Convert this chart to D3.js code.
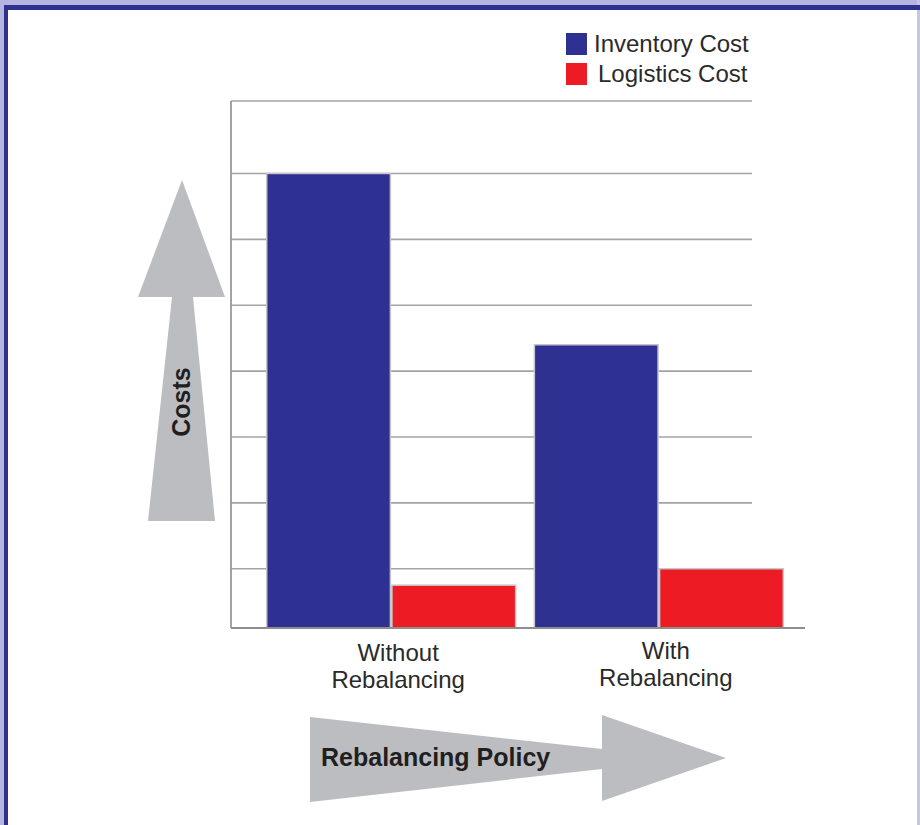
<!DOCTYPE html>
<html><head><meta charset="utf-8">
<script src="https://cdn.jsdelivr.net/npm/d3@7"></script>
<style>html,body{margin:0;padding:0;background:#fff;}svg{display:block;}</style>
</head><body>
<script>
const categories = [["Without", "Rebalancing"], ["With", "Rebalancing"]];
const categoryKeys = ["Without Rebalancing", "With Rebalancing"];
const seriesNames = ["Inventory Cost", "Logistics Cost"];
const inventoryCost = [7.0, 4.4];
const logisticsCost = [0.75, 1.0];
const gridLevels = [1, 2, 3, 4, 5, 6, 7];
const yDomain = [0.1, 8.1];
const colors = ["#2e3192", "#ed1c24"];

const W = 920, H = 825;
const svg = d3.select("body").append("svg").attr("width", W).attr("height", H);
const font = "Liberation Sans, Arial, Helvetica, sans-serif";

// frame
svg.append("rect").attr("width", W).attr("height", H).attr("fill", "#fff");
svg.append("rect").attr("x", 0).attr("y", 0).attr("width", W).attr("height", 5).attr("fill", "#b4b6e0");
svg.append("rect").attr("x", 0).attr("y", 0).attr("width", 4).attr("height", H).attr("fill", "#b4b6e0");
svg.append("rect").attr("x", 917).attr("y", 0).attr("width", 3).attr("height", H).attr("fill", "#c4c6e8");
svg.append("rect").attr("x", 4).attr("y", 5).attr("width", W - 4).attr("height", 5).attr("fill", "#2e3190");
svg.append("rect").attr("x", 4).attr("y", 5).attr("width", 4).attr("height", H).attr("fill", "#2e3190");

const plotLeft = 231, gridRight = 752, baseRight = 805;
const y = d3.scaleLinear().domain(yDomain).range([628, 101]);
const x0 = d3.scaleBand().domain(categoryKeys).range([256, 794]).paddingInner(0.07).paddingOuter(0.04);
const x1 = d3.scaleBand().domain(seriesNames).range([0, x0.bandwidth()]).paddingInner(0.012);

// grid
const grid = svg.append("g");
grid.selectAll("line.g").data(gridLevels.concat([yDomain[1]])).join("line")
  .attr("x1", plotLeft).attr("x2", gridRight)
  .attr("y1", d => y(d)).attr("y2", d => y(d))
  .attr("stroke", "#a3a3a3").attr("stroke-width", 1.6);
// left axis
svg.append("line").attr("x1", plotLeft).attr("x2", plotLeft)
  .attr("y1", y(yDomain[1])).attr("y2", y(yDomain[0]))
  .attr("stroke", "#999").attr("stroke-width", 1.8);

// bars
const data = categoryKeys.map((c, i) => ({cat: c, vals: [inventoryCost[i], logisticsCost[i]]}));
const groups = svg.selectAll("g.grp").data(data).join("g")
  .attr("transform", d => `translate(${x0(d.cat)},0)`);
groups.selectAll("rect").data(d => d.vals.map((v, j) => ({s: seriesNames[j], v, j}))).join("rect")
  .attr("x", d => x1(d.s)).attr("width", x1.bandwidth())
  .attr("y", d => y(d.v)).attr("height", d => y(yDomain[0]) - y(d.v))
  .attr("fill", d => colors[d.j]).attr("stroke", "#c6c6cc").attr("stroke-width", 1.5);

// baseline
svg.append("line").attr("x1", plotLeft).attr("x2", baseRight)
  .attr("y1", y(yDomain[0])).attr("y2", y(yDomain[0]))
  .attr("stroke", "#8e8e8e").attr("stroke-width", 1.8);

// category labels
const labOffsets = [[661, 688], [659, 686]];
categories.forEach((lines, i) => {
  const cx = x0(categoryKeys[i]) + x0.bandwidth() / 2 + 7;
  lines.forEach((t, k) => {
    svg.append("text").attr("x", cx).attr("y", labOffsets[i][k])
      .attr("text-anchor", "middle").attr("font-family", font).attr("font-size", 24)
      .attr("fill", "#2a2a2a").text(t);
  });
});

// legend
const legY = [33, 63];
seriesNames.forEach((s, i) => {
  svg.append("rect").attr("x", 566).attr("y", legY[i]).attr("width", 21).attr("height", 22).attr("fill", colors[i]);
  svg.append("text").attr("x", i === 0 ? 594 : 598).attr("y", legY[i] + 19)
    .attr("font-family", font).attr("font-size", 24).attr("fill", "#2a2a2a").text(s);
});

// vertical arrow
const arrowFill = "#bcbdc0";
svg.append("path").attr("fill", arrowFill)
  .attr("d", "M182,180 L225,297 L193,297 L215,521 L148,521 L172,297 L138,297 Z");
svg.append("text").attr("transform", "translate(190,402) rotate(-90)")
  .attr("text-anchor", "middle").attr("font-family", font).attr("font-weight", "bold")
  .attr("font-size", 25).attr("fill", "#1f1f1f").text("Costs");

// horizontal arrow
svg.append("path").attr("fill", arrowFill)
  .attr("d", "M310,717 L602,749 L602,715 L726,758 L602,801 L602,769 L310,802 Z");
svg.append("text").attr("x", 321).attr("y", 766)
  .attr("font-family", font).attr("font-weight", "bold").attr("font-size", 25)
  .attr("fill", "#1f1f1f").text("Rebalancing Policy");
</script>
</body></html>
